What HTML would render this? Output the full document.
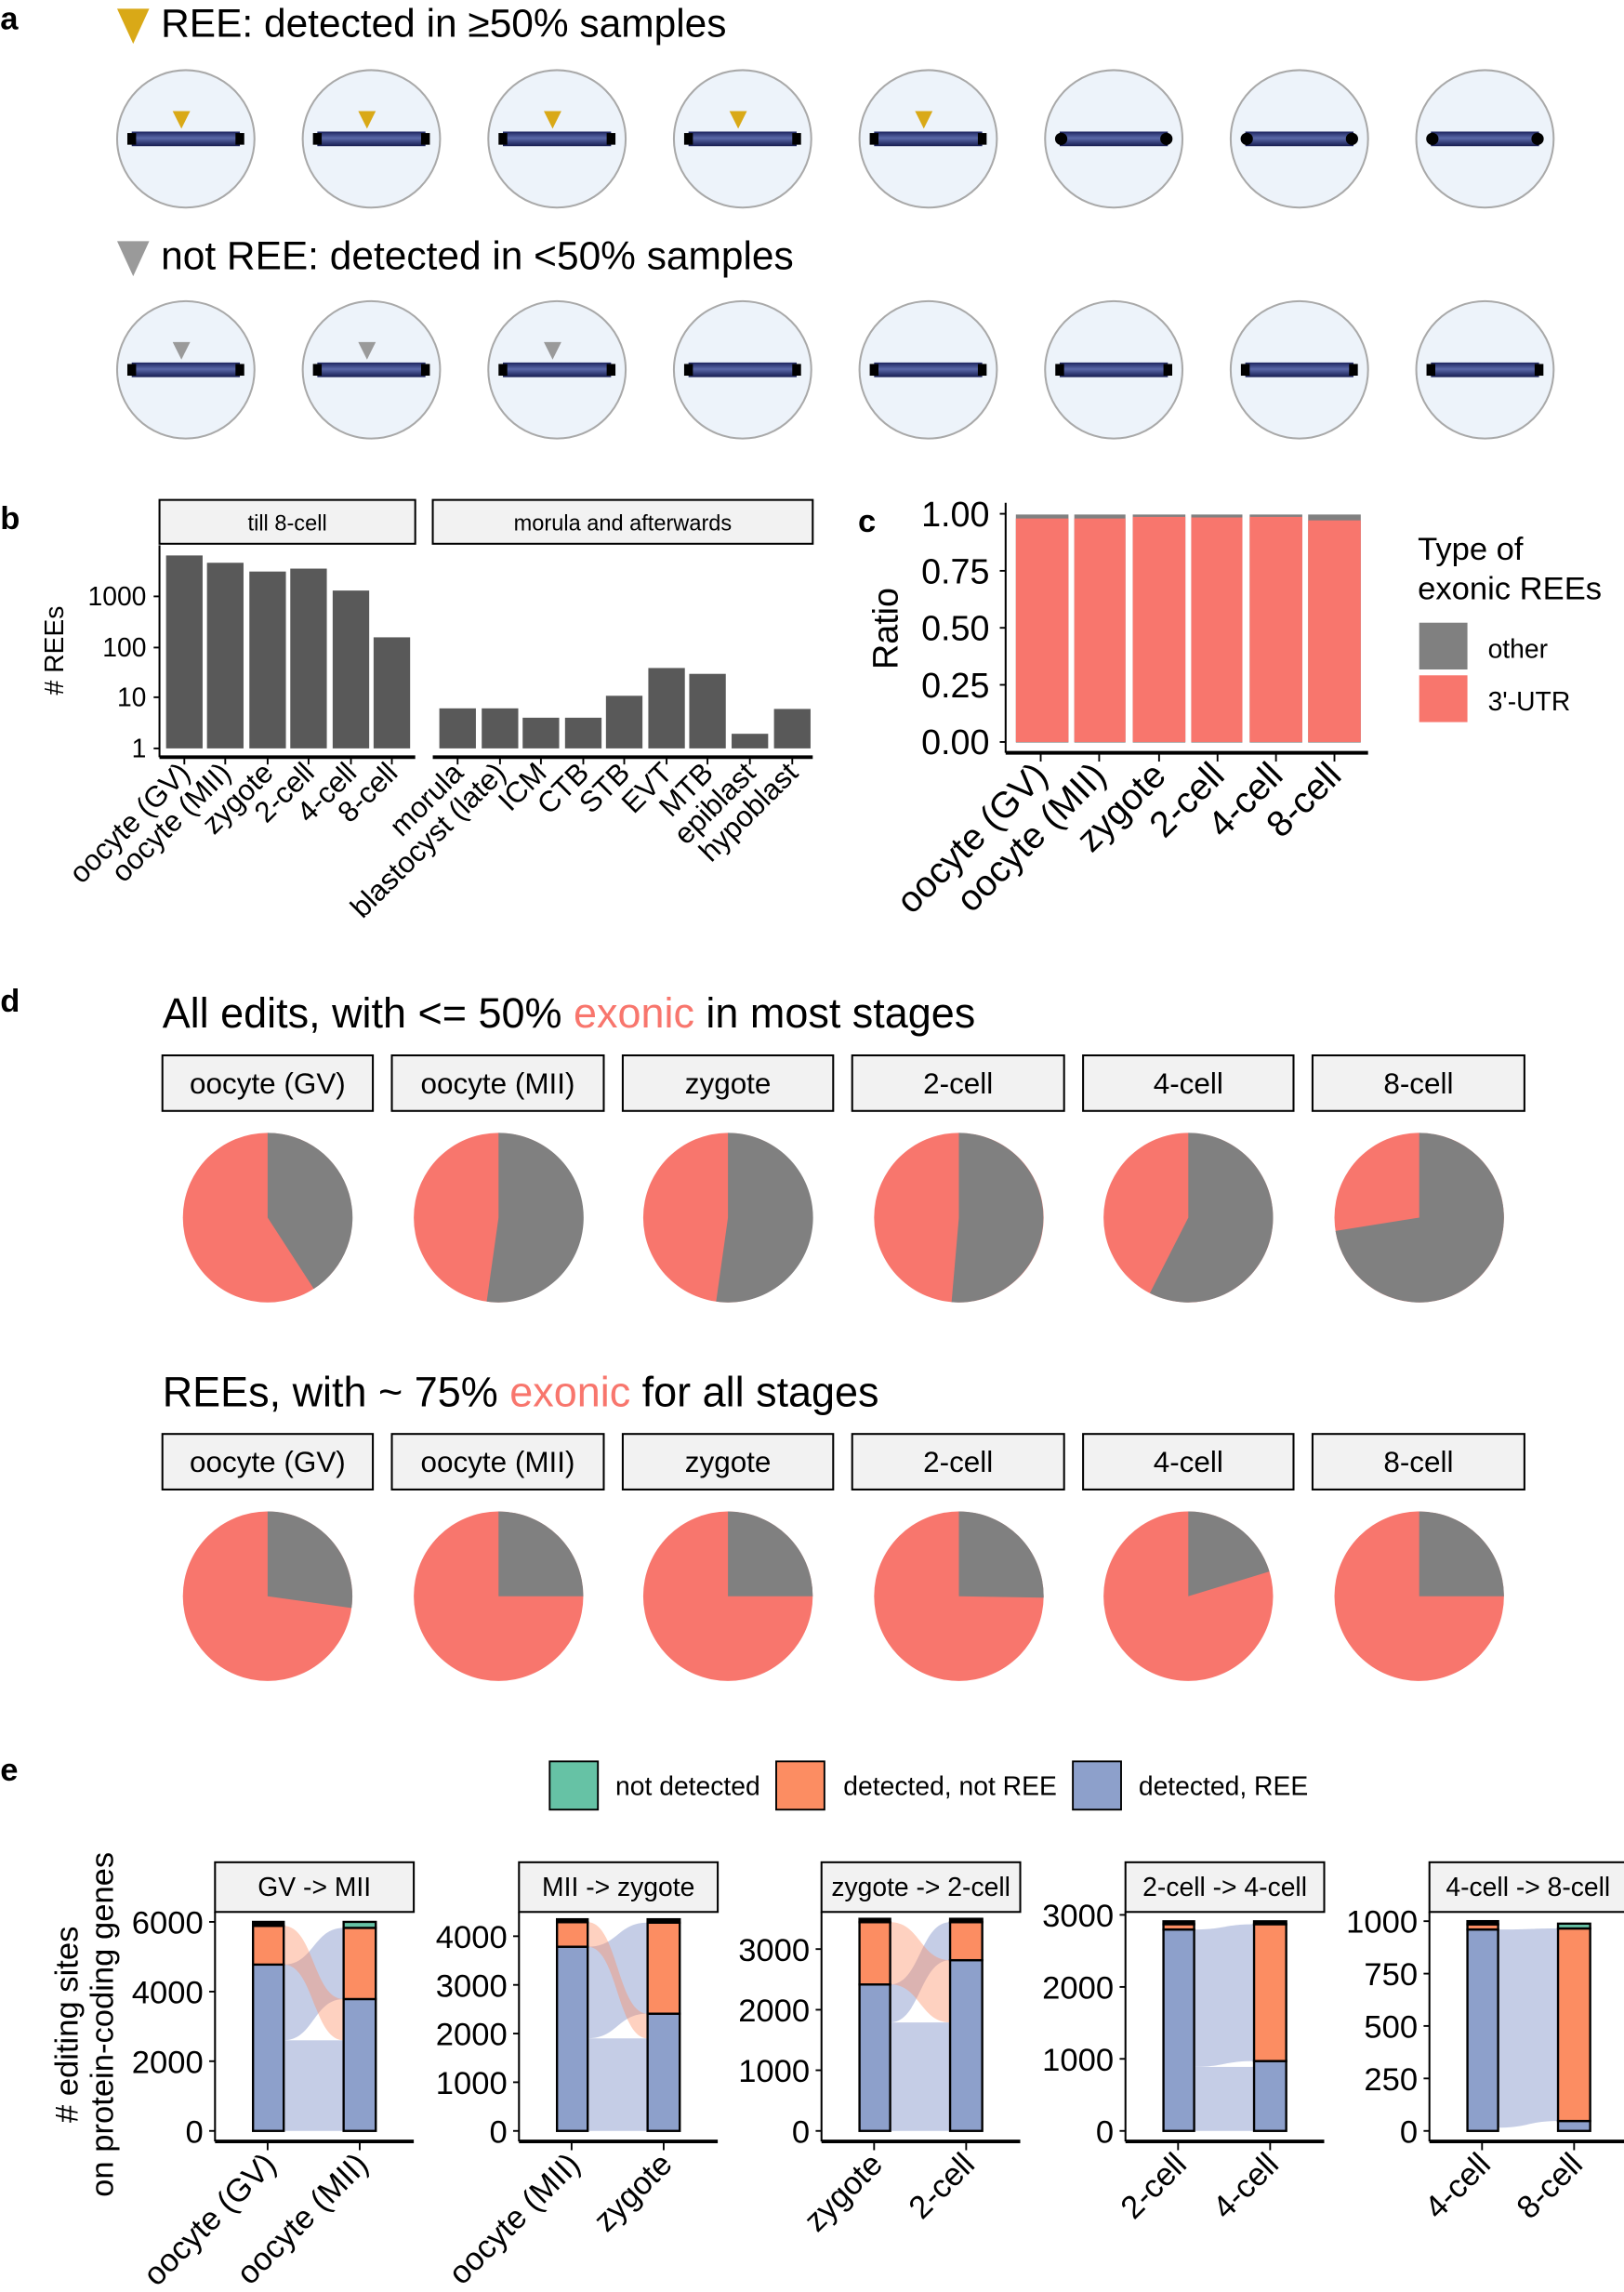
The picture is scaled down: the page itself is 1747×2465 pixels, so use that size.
<!DOCTYPE html>
<html><head><meta charset="utf-8"><style>
html,body{margin:0;padding:0;background:#fff}
svg{display:block}
text{font-family:"Liberation Sans",Arial,sans-serif;fill:#000}
</style></head><body>
<svg width="1747" height="2465" viewBox="0 0 1111 1568" xmlns="http://www.w3.org/2000/svg">
<defs>
<linearGradient id="nav" x1="0" y1="0" x2="0" y2="1">
<stop offset="0" stop-color="#1e2560"/><stop offset="0.45" stop-color="#5a68a8"/><stop offset="1" stop-color="#161c50"/>
</linearGradient>
<g id="cap"><circle r="47" fill="#edf3fa" stroke="#a9a9a9" stroke-width="1.3"/><rect x="-37" y="-5" width="74" height="10" fill="url(#nav)"/></g>
<g id="sq"><use href="#cap"/><rect x="-40" y="-4" width="6" height="8" fill="#000"/><rect x="34" y="-4" width="6" height="8" fill="#000"/></g>
<g id="rd"><use href="#cap"/><circle cx="-36" cy="0" r="4.2" fill="#000"/><circle cx="36" cy="0" r="4.2" fill="#000"/></g>
</defs>

<!-- a -->
<text x="0" y="20" font-size="22" font-weight="bold">a</text>
<polygon points="80,6 102,6 91,30" fill="#d9a917"/>
<text x="110" y="25" font-size="27">REE: detected in ≥50% samples</text>
<g transform="translate(0,95)">
<use href="#sq" x="127"/><use href="#sq" x="254"/><use href="#sq" x="381"/><use href="#sq" x="508"/><use href="#sq" x="635"/>
<use href="#rd" x="762"/><use href="#rd" x="889"/><use href="#rd" x="1016"/>
</g>
<g fill="#d9a917">
<polygon points="118,76 130,76 124,88"/><polygon points="245,76 257,76 251,88"/><polygon points="372,76 384,76 378,88"/><polygon points="499,76 511,76 505,88"/><polygon points="626,76 638,76 632,88"/>
</g>
<polygon points="80,165 102,165 91,189" fill="#9a9a9a"/>
<text x="110" y="184" font-size="27">not REE: detected in &lt;50% samples</text>
<g transform="translate(0,253)">
<use href="#sq" x="127"/><use href="#sq" x="254"/><use href="#sq" x="381"/><use href="#sq" x="508"/><use href="#sq" x="635"/>
<use href="#sq" x="762"/><use href="#sq" x="889"/><use href="#sq" x="1016"/>
</g>
<g fill="#9a9a9a">
<polygon points="118,234 130,234 124,246"/><polygon points="245,234 257,234 251,246"/><polygon points="372,234 384,234 378,246"/>
</g>

<!-- b -->
<text x="0" y="362" font-size="22" font-weight="bold">b</text>
<rect x="109" y="342" width="175" height="30" fill="#f2f2f2" stroke="#000" stroke-width="1.3"/>
<text x="196.5" y="363" font-size="15" text-anchor="middle">till 8-cell</text>
<rect x="296" y="342" width="260" height="30" fill="#f2f2f2" stroke="#000" stroke-width="1.3"/>
<text x="426" y="363" font-size="15" text-anchor="middle">morula and afterwards</text>
<line x1="109" y1="373" x2="109" y2="518" stroke="#000" stroke-width="1.3"/>
<g fill="#595959">
<rect x="113.5" y="380" width="25" height="132"/><rect x="141.5" y="385" width="25" height="127"/><rect x="170.5" y="391" width="25" height="121"/><rect x="198.5" y="389" width="25" height="123"/><rect x="227.5" y="404" width="25" height="108"/><rect x="255.5" y="436" width="25" height="76"/>
<rect x="300.5" y="484.6" width="25" height="27.4"/><rect x="329.5" y="484.6" width="25" height="27.4"/><rect x="357.5" y="491" width="25" height="21"/><rect x="386.5" y="491" width="25" height="21"/><rect x="414.5" y="476" width="25" height="36"/><rect x="443.5" y="457" width="25" height="55"/><rect x="471.5" y="461" width="25" height="51"/><rect x="500.5" y="502" width="25" height="10"/><rect x="529.5" y="485" width="25" height="27"/>
</g>
<g stroke="#000" stroke-width="2.5"><line x1="109" y1="518" x2="284" y2="518"/><line x1="296" y1="518" x2="556" y2="518"/></g>
<g stroke="#000" stroke-width="1.2">
<line x1="105" y1="408" x2="109" y2="408"/><line x1="105" y1="443" x2="109" y2="443"/><line x1="105" y1="477" x2="109" y2="477"/><line x1="105" y1="512" x2="109" y2="512"/>
<line x1="126" y1="518" x2="126" y2="523"/><line x1="154" y1="518" x2="154" y2="523"/><line x1="183" y1="518" x2="183" y2="523"/><line x1="211" y1="518" x2="211" y2="523"/><line x1="240" y1="518" x2="240" y2="523"/><line x1="268" y1="518" x2="268" y2="523"/>
<line x1="313" y1="518" x2="313" y2="523"/><line x1="342" y1="518" x2="342" y2="523"/><line x1="370" y1="518" x2="370" y2="523"/><line x1="399" y1="518" x2="399" y2="523"/><line x1="427" y1="518" x2="427" y2="523"/><line x1="456" y1="518" x2="456" y2="523"/><line x1="484" y1="518" x2="484" y2="523"/><line x1="513" y1="518" x2="513" y2="523"/><line x1="542" y1="518" x2="542" y2="523"/>
</g>
<g font-size="18" text-anchor="end">
<text x="100" y="414">1000</text><text x="100" y="449">100</text><text x="100" y="483">10</text><text x="100" y="518">1</text>
</g>
<text transform="translate(43,445) rotate(-90)" font-size="18" text-anchor="middle"># REEs</text>
<g font-size="20" text-anchor="end">
<text transform="translate(131,530) rotate(-45)">oocyte (GV)</text>
<text transform="translate(159,530) rotate(-45)">oocyte (MII)</text>
<text transform="translate(188,530) rotate(-45)">zygote</text>
<text transform="translate(216,530) rotate(-45)">2-cell</text>
<text transform="translate(245,530) rotate(-45)">4-cell</text>
<text transform="translate(273,530) rotate(-45)">8-cell</text>
<text transform="translate(318,530) rotate(-45)">morula</text>
<text transform="translate(347,530) rotate(-45)">blastocyst (late)</text>
<text transform="translate(375,530) rotate(-45)">ICM</text>
<text transform="translate(404,530) rotate(-45)">CTB</text>
<text transform="translate(432,530) rotate(-45)">STB</text>
<text transform="translate(461,530) rotate(-45)">EVT</text>
<text transform="translate(489,530) rotate(-45)">MTB</text>
<text transform="translate(518,530) rotate(-45)">epiblast</text>
<text transform="translate(547,530) rotate(-45)">hypoblast</text>
</g>

<!-- c -->
<text x="587" y="364" font-size="22" font-weight="bold">c</text>
<g fill="#808080">
<rect x="695" y="352" width="36" height="156"/><rect x="735" y="352" width="35" height="156"/><rect x="775" y="352" width="36" height="156"/><rect x="815" y="352" width="35" height="156"/><rect x="855" y="352" width="36" height="156"/><rect x="895" y="352" width="36" height="156"/>
</g>
<g fill="#f8766d">
<rect x="695" y="354.7" width="36" height="152.9"/><rect x="735" y="354.7" width="35" height="152.9"/><rect x="775" y="353.6" width="36" height="154"/><rect x="815" y="354" width="35" height="153.6"/><rect x="855" y="353.6" width="36" height="154"/><rect x="895" y="356" width="36" height="151.6"/>
</g>
<line x1="688" y1="344" x2="688" y2="515" stroke="#000" stroke-width="1.3"/>
<line x1="688" y1="515" x2="936" y2="515" stroke="#000" stroke-width="2.5"/>
<g stroke="#000" stroke-width="1.2">
<line x1="684" y1="351.5" x2="688" y2="351.5"/><line x1="684" y1="390.5" x2="688" y2="390.5"/><line x1="684" y1="429.5" x2="688" y2="429.5"/><line x1="684" y1="468.5" x2="688" y2="468.5"/><line x1="684" y1="507.6" x2="688" y2="507.6"/>
<line x1="712" y1="515" x2="712" y2="521"/><line x1="752" y1="515" x2="752" y2="521"/><line x1="793" y1="515" x2="793" y2="521"/><line x1="833" y1="515" x2="833" y2="521"/><line x1="873" y1="515" x2="873" y2="521"/><line x1="913" y1="515" x2="913" y2="521"/>
</g>
<g font-size="24" text-anchor="end">
<text x="677" y="360">1.00</text><text x="677" y="399">0.75</text><text x="677" y="438">0.50</text><text x="677" y="477">0.25</text><text x="677" y="516">0.00</text>
</g>
<text transform="translate(614,430) rotate(-90)" font-size="24" text-anchor="middle">Ratio</text>
<g font-size="25" text-anchor="end">
<text transform="translate(718,532) rotate(-45)">oocyte (GV)</text>
<text transform="translate(758,532) rotate(-45)">oocyte (MII)</text>
<text transform="translate(799,532) rotate(-45)">zygote</text>
<text transform="translate(839,532) rotate(-45)">2-cell</text>
<text transform="translate(879,532) rotate(-45)">4-cell</text>
<text transform="translate(919,532) rotate(-45)">8-cell</text>
</g>
<text x="970" y="383" font-size="22">Type of</text>
<text x="970" y="410" font-size="22">exonic REEs</text>
<rect x="971" y="426" width="33" height="32" fill="#808080"/>
<rect x="971" y="462" width="33" height="32" fill="#f8766d"/>
<text x="1018" y="450" font-size="18">other</text>
<text x="1018" y="486" font-size="18">3'-UTR</text>

<!-- d -->
<text x="0" y="692" font-size="22" font-weight="bold">d</text>
<text x="111" y="703" font-size="28.6">All edits, with &lt;= 50% <tspan fill="#f8766d">exonic</tspan> in most stages</text>
<g fill="#f2f2f2" stroke="#000" stroke-width="1.3">
<rect x="111" y="722" width="144" height="38"/><rect x="268" y="722" width="145" height="38"/><rect x="426" y="722" width="144" height="38"/><rect x="583" y="722" width="145" height="38"/><rect x="741" y="722" width="144" height="38"/><rect x="898" y="722" width="145" height="38"/>
<rect x="111" y="981" width="144" height="38"/><rect x="268" y="981" width="145" height="38"/><rect x="426" y="981" width="144" height="38"/><rect x="583" y="981" width="145" height="38"/><rect x="741" y="981" width="144" height="38"/><rect x="898" y="981" width="145" height="38"/>
</g>
<g font-size="20" text-anchor="middle">
<text x="183" y="748">oocyte (GV)</text><text x="340.5" y="748">oocyte (MII)</text><text x="498" y="748">zygote</text><text x="655.5" y="748">2-cell</text><text x="813" y="748">4-cell</text><text x="970.5" y="748">8-cell</text>
<text x="183" y="1007">oocyte (GV)</text><text x="340.5" y="1007">oocyte (MII)</text><text x="498" y="1007">zygote</text><text x="655.5" y="1007">2-cell</text><text x="813" y="1007">4-cell</text><text x="970.5" y="1007">8-cell</text>
</g>
<g fill="#f8766d">
<circle cx="183" cy="833" r="58"/><circle cx="341" cy="833" r="58"/><circle cx="498" cy="833" r="58"/><circle cx="656" cy="833" r="58"/><circle cx="813" cy="833" r="58"/><circle cx="971" cy="833" r="58"/>
<circle cx="183" cy="1092" r="58"/><circle cx="341" cy="1092" r="58"/><circle cx="498" cy="1092" r="58"/><circle cx="656" cy="1092" r="58"/><circle cx="813" cy="1092" r="58"/><circle cx="971" cy="1092" r="58"/>
</g>
<g fill="#808080">
<path d="M183,833 L183,775 A58,58 0 0 1 214.6,881.7 Z"/>
<path d="M341,833 L341,775 A58,58 0 1 1 332.9,890.4 Z"/>
<path d="M498,833 L498,775 A58,58 0 1 1 489.9,890.4 Z"/>
<path d="M656,833 L656,775 A58,58 0 1 1 651,890.8 Z"/>
<path d="M813,833 L813,775 A58,58 0 1 1 786.7,884.7 Z"/>
<path d="M971,833 L971,775 A58,58 0 1 1 913.7,842.1 Z"/>
<path d="M183,1092 L183,1034 A58,58 0 0 1 240.4,1100.1 Z"/>
<path d="M341,1092 L341,1034 A58,58 0 0 1 399,1092 Z"/>
<path d="M498,1092 L498,1034 A58,58 0 0 1 556,1092 Z"/>
<path d="M656,1092 L656,1034 A58,58 0 0 1 714,1093 Z"/>
<path d="M813,1092 L813,1034 A58,58 0 0 1 868.5,1075.1 Z"/>
<path d="M971,1092 L971,1034 A58,58 0 0 1 1029,1092 Z"/>
</g>
<text x="111" y="962" font-size="28.6">REEs, with ~ 75% <tspan fill="#f8766d">exonic</tspan> for all stages</text>

<!-- e -->
<text x="0" y="1218" font-size="22" font-weight="bold">e</text>
<rect x="376" y="1205" width="33" height="33" fill="#66c2a5" stroke="#000" stroke-width="1.2"/>
<text x="421" y="1228" font-size="18">not detected</text>
<rect x="531" y="1205" width="33" height="33" fill="#fc8d62" stroke="#000" stroke-width="1.2"/>
<text x="577" y="1228" font-size="18">detected, not REE</text>
<rect x="734" y="1205" width="33" height="33" fill="#8da0cb" stroke="#000" stroke-width="1.2"/>
<text x="779" y="1228" font-size="18">detected, REE</text>

<g fill="#f2f2f2" stroke="#000" stroke-width="1.3">
<rect x="147" y="1274" width="136" height="34"/><rect x="355" y="1274" width="136" height="34"/><rect x="562" y="1274" width="136" height="34"/><rect x="770" y="1274" width="136" height="34"/><rect x="978" y="1274" width="135" height="34"/>
</g>
<g font-size="18" text-anchor="middle">
<text x="215" y="1297">GV -&gt; MII</text><text x="423" y="1297">MII -&gt; zygote</text><text x="630" y="1297">zygote -&gt; 2-cell</text><text x="838" y="1297">2-cell -&gt; 4-cell</text><text x="1045.5" y="1297">4-cell -&gt; 8-cell</text>
</g>

<!-- flows -->
<g fill="#c5cde6">
<rect x="194" y="1395.8" width="41" height="62"/>
<path d="M194,1344 C214.5,1344 214.5,1318.9 235,1318.9 L235,1367.6 C214.5,1367.6 214.5,1395.8 194,1395.8 Z"/>
<rect x="402" y="1394.5" width="41" height="63.3"/>
<path d="M402,1331.8 C422.5,1331.8 422.5,1315.3 443,1315.3 L443,1377.6 C422.5,1377.6 422.5,1394.5 402,1394.5 Z"/>
<rect x="609" y="1383.6" width="41" height="74.2"/>
<path d="M609,1357.6 C629.5,1357.6 629.5,1315 650,1315 L650,1341 C629.5,1341 629.5,1383.6 609,1383.6 Z"/>
<rect x="817" y="1414" width="41" height="43.8"/>
<path d="M817,1320 C837.5,1320 837.5,1316.4 858,1316.4 L858,1410 C837.5,1410 837.5,1414 817,1414 Z"/>
<path d="M1025,1320 C1045.5,1320 1045.5,1319.3 1066,1319.3 L1066,1451 C1045.5,1451 1045.5,1455.6 1025,1455.6 Z"/>
</g>
<g fill="#fc8d62" fill-opacity="0.4">
<path d="M194,1317.5 C214.5,1317.5 214.5,1367.6 235,1367.6 L235,1395.8 C214.5,1395.8 214.5,1344 194,1344 Z"/>
<path d="M402,1315 C422.5,1315 422.5,1377.6 443,1377.6 L443,1394.5 C422.5,1394.5 422.5,1331.8 402,1331.8 Z"/>
<path d="M609,1315 C629.5,1315 629.5,1341 650,1341 L650,1383.6 C629.5,1383.6 629.5,1357.6 609,1357.6 Z"/>
</g>

<!-- bars -->
<g stroke="#000" stroke-width="1.5">
<rect x="173" y="1344" width="21" height="113.8" fill="#8da0cb"/><rect x="173" y="1317.5" width="21" height="26.5" fill="#fc8d62"/><rect x="173" y="1314.8" width="21" height="2.7" fill="#000"/>
<rect x="235" y="1367.6" width="22" height="90.2" fill="#8da0cb"/><rect x="235" y="1318.9" width="22" height="48.7" fill="#fc8d62"/><rect x="235" y="1314.8" width="22" height="4.1" fill="#66c2a5"/>
<rect x="381" y="1331.8" width="21" height="126" fill="#8da0cb"/><rect x="381" y="1315" width="21" height="16.8" fill="#fc8d62"/><rect x="381" y="1313" width="21" height="2" fill="#000"/>
<rect x="443" y="1377.6" width="22" height="80.2" fill="#8da0cb"/><rect x="443" y="1315.3" width="22" height="62.3" fill="#fc8d62"/><rect x="443" y="1313" width="22" height="2.3" fill="#000"/>
<rect x="588" y="1357.6" width="21" height="100.2" fill="#8da0cb"/><rect x="588" y="1315" width="21" height="42.6" fill="#fc8d62"/><rect x="588" y="1312.7" width="21" height="2.3" fill="#000"/>
<rect x="650" y="1341" width="22" height="116.8" fill="#8da0cb"/><rect x="650" y="1315" width="22" height="26" fill="#fc8d62"/><rect x="650" y="1312.7" width="22" height="2.3" fill="#000"/>
<rect x="796" y="1320" width="21" height="137.8" fill="#8da0cb"/><rect x="796" y="1316.4" width="21" height="3.6" fill="#fc8d62"/><rect x="796" y="1314.4" width="21" height="2" fill="#000"/>
<rect x="858" y="1410" width="22" height="47.8" fill="#8da0cb"/><rect x="858" y="1316.4" width="22" height="93.6" fill="#fc8d62"/><rect x="858" y="1314.4" width="22" height="2" fill="#000"/>
<rect x="1004" y="1320" width="21" height="137.8" fill="#8da0cb"/><rect x="1004" y="1316.5" width="21" height="3.5" fill="#fc8d62"/><rect x="1004" y="1314.3" width="21" height="2.2" fill="#000"/>
<rect x="1066" y="1451" width="22" height="6.8" fill="#8da0cb"/><rect x="1066" y="1319.3" width="22" height="131.7" fill="#fc8d62"/><rect x="1066" y="1316" width="22" height="3.3" fill="#66c2a5"/>
</g>

<!-- axes e -->
<g stroke="#000" stroke-width="1.3">
<line x1="147" y1="1308" x2="147" y2="1465"/><line x1="355" y1="1308" x2="355" y2="1465"/><line x1="562" y1="1308" x2="562" y2="1465"/><line x1="770" y1="1308" x2="770" y2="1465"/><line x1="978" y1="1308" x2="978" y2="1465"/>
</g>
<g stroke="#000" stroke-width="2.5">
<line x1="147" y1="1465" x2="283" y2="1465"/><line x1="355" y1="1465" x2="491" y2="1465"/><line x1="562" y1="1465" x2="698" y2="1465"/><line x1="770" y1="1465" x2="906" y2="1465"/><line x1="978" y1="1465" x2="1113" y2="1465"/>
</g>
<g stroke="#000" stroke-width="1.2">
<line x1="183" y1="1465" x2="183" y2="1471"/><line x1="246" y1="1465" x2="246" y2="1471"/>
<line x1="391" y1="1465" x2="391" y2="1471"/><line x1="454" y1="1465" x2="454" y2="1471"/>
<line x1="598" y1="1465" x2="598" y2="1471"/><line x1="661" y1="1465" x2="661" y2="1471"/>
<line x1="806" y1="1465" x2="806" y2="1471"/><line x1="869" y1="1465" x2="869" y2="1471"/>
<line x1="1014" y1="1465" x2="1014" y2="1471"/><line x1="1077" y1="1465" x2="1077" y2="1471"/>
<line x1="143" y1="1457.8" x2="147" y2="1457.8"/><line x1="143" y1="1410.1" x2="147" y2="1410.1"/><line x1="143" y1="1362.5" x2="147" y2="1362.5"/><line x1="143" y1="1314.8" x2="147" y2="1314.8"/>
<line x1="351" y1="1457.8" x2="355" y2="1457.8"/><line x1="351" y1="1424.5" x2="355" y2="1424.5"/><line x1="351" y1="1391.2" x2="355" y2="1391.2"/><line x1="351" y1="1357.9" x2="355" y2="1357.9"/><line x1="351" y1="1324.6" x2="355" y2="1324.6"/>
<line x1="558" y1="1457.8" x2="562" y2="1457.8"/><line x1="558" y1="1416.3" x2="562" y2="1416.3"/><line x1="558" y1="1374.9" x2="562" y2="1374.9"/><line x1="558" y1="1333.4" x2="562" y2="1333.4"/>
<line x1="766" y1="1457.8" x2="770" y2="1457.8"/><line x1="766" y1="1408.5" x2="770" y2="1408.5"/><line x1="766" y1="1359.3" x2="770" y2="1359.3"/><line x1="766" y1="1310" x2="770" y2="1310"/>
<line x1="974" y1="1457.8" x2="978" y2="1457.8"/><line x1="974" y1="1421.9" x2="978" y2="1421.9"/><line x1="974" y1="1386" x2="978" y2="1386"/><line x1="974" y1="1350.2" x2="978" y2="1350.2"/><line x1="974" y1="1314.3" x2="978" y2="1314.3"/>
</g>
<g font-size="22" text-anchor="end">
<text x="139" y="1465.8">0</text><text x="139" y="1418.1">2000</text><text x="139" y="1370.5">4000</text><text x="139" y="1322.8">6000</text>
<text x="347" y="1465.8">0</text><text x="347" y="1432.5">1000</text><text x="347" y="1399.2">2000</text><text x="347" y="1365.9">3000</text><text x="347" y="1332.6">4000</text>
<text x="554" y="1465.8">0</text><text x="554" y="1424.3">1000</text><text x="554" y="1382.9">2000</text><text x="554" y="1341.4">3000</text>
<text x="762" y="1465.8">0</text><text x="762" y="1416.5">1000</text><text x="762" y="1367.3">2000</text><text x="762" y="1318">3000</text>
<text x="970" y="1465.8">0</text><text x="970" y="1429.9">250</text><text x="970" y="1394">500</text><text x="970" y="1358.2">750</text><text x="970" y="1322.3">1000</text>
</g>
<text transform="translate(53,1385) rotate(-90)" font-size="22" text-anchor="middle"># editing sites</text>
<text transform="translate(77,1385) rotate(-90)" font-size="22" text-anchor="middle">on protein-coding genes</text>
<g font-size="22" text-anchor="end">
<text transform="translate(190,1482) rotate(-45)">oocyte (GV)</text>
<text transform="translate(253,1482) rotate(-45)">oocyte (MII)</text>
<text transform="translate(398,1482) rotate(-45)">oocyte (MII)</text>
<text transform="translate(461,1482) rotate(-45)">zygote</text>
<text transform="translate(605,1482) rotate(-45)">zygote</text>
<text transform="translate(668,1482) rotate(-45)">2-cell</text>
<text transform="translate(813,1482) rotate(-45)">2-cell</text>
<text transform="translate(876,1482) rotate(-45)">4-cell</text>
<text transform="translate(1021,1482) rotate(-45)">4-cell</text>
<text transform="translate(1084,1482) rotate(-45)">8-cell</text>
</g>
</svg>
</body></html>
